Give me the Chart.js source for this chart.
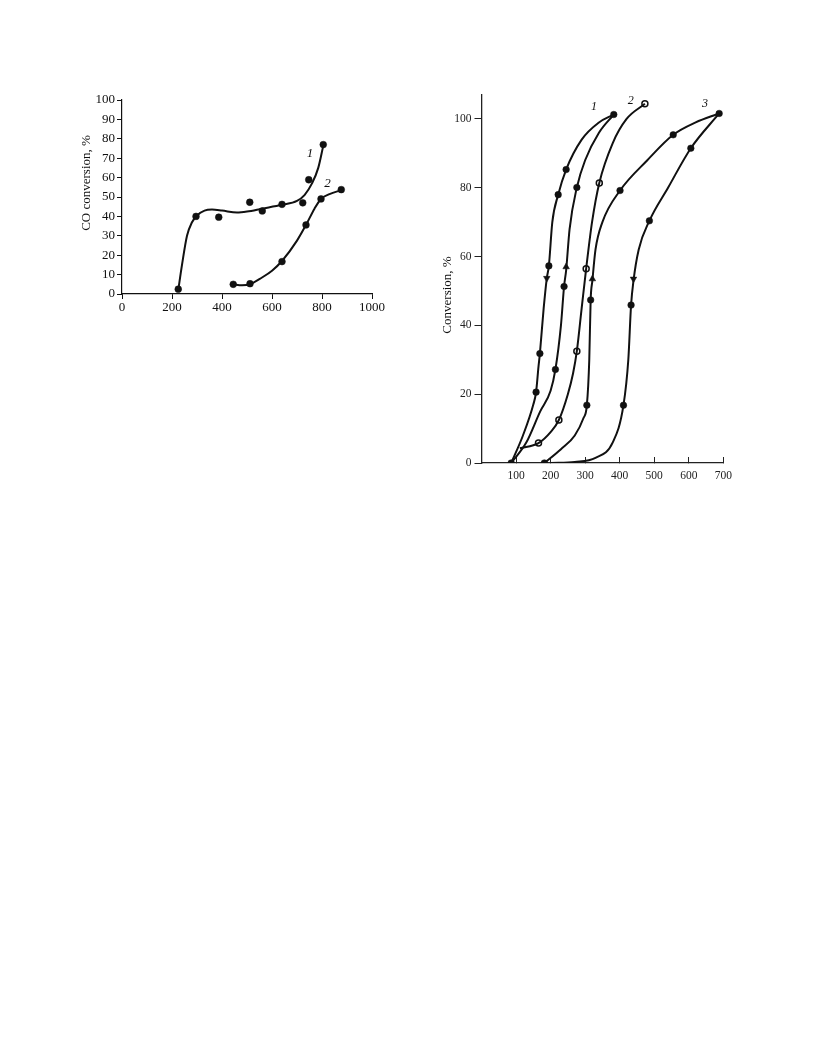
<!Doctype html>
<html>
  <head>
    <meta charset="utf-8"/>
    <style type="text/css">
      body {
        margin: 0px;
        padding: 0px;
        background: #ffffff;
      }
      #left {
        position: absolute;
        left: 60px;
        top: 85px;
      }
      #right {
        position: absolute;
        left: 430px;
        top: 85px;
      }
    </style>
  </head>
  <body>
    <div id="left"><canvas id="c1" width="340" height="240"></canvas></div>
    <div id="right"><canvas id="c2" width="320" height="410"></canvas></div>
  </body>
  <script src="https://cdn.jsdelivr.net/npm/chart.js@4"></script>
  <script>
    // ---- left chart: CO conversion vs temperature ----
    var l1Pts = [[225,2.5],[296,40],[387,39.6],[511,47.3],[561,42.8],[640,46.2],[723,47],[747,58.9],[805,77]];
    var l1Line = [[225,2],[240,15],[260,30],[280,37],[300,40.5],[330,43],[360,43.5],[400,43],[460,42],[500,42.5],[560,44],[640,46],[700,48],[730,51],[760,57],[785,65],[806,77]];
    var l2Pts = [[445,5],[512,5.3],[640,16.7],[736,35.6],[796,49],[877,53.8]];
    var l2Line = [[445,5],[480,4.5],[512,5],[560,8.5],[600,12],[640,17],[700,27.5],[736,35.6],[770,44],[796,49],[830,51.5],[877,53.5]];
    var leftLabels = [["1",752,72.5],["2",822,57]];

    // ---- right chart: conversion curves 1-3 ----
    var r1Down = [[86,0],[120,8],[150,17],[158,20.6],[165,28],[169,31.8],[180,45],[189,53.7],[195,57.3],[205,70],[222,78],[245,85.3],[290,94],[340,99],[383,101.3]];
    var r1Up = [[86,0],[130,6],[170,15],[200,21],[214,27.2],[230,40],[239,51.3],[245,56],[255,68],[276,80.1],[300,88],[340,96],[383,101.3]];
    var r1Pts = [[86,0],[158,20.6],[169,31.8],[195,57.3],[222,78],[245,85.3],[214,27.2],[239,51.3],[276,80.1],[383,101.3]];
    var r2Line = [[111,4.3],[165,5.8],[200,9],[224,12.5],[250,20],[265,26],[276,32.5],[290,45],[303,56.5],[320,70],[341,81.4],[380,93],[420,100],[473,104.4]];
    var r2Pts = [[165,5.8],[224,12.5],[276,32.5],[303,56.5],[341,81.4],[473,104.4]];
    var r3Up = [[182,0],[230,4],[270,8],[295,13],[305,16.8],[312,30],[316,47.4],[321,53],[330,62],[350,70],[401,79.2],[480,88],[555,95.4],[620,99],[688,101.6]];
    var r3Down = [[200,0],[270,0.3],[330,1.5],[380,6],[411,16.8],[425,30],[433,45.9],[440,53],[455,62],[486,70.4],[540,80],[606,91.5],[688,101.6]];
    var r3Pts = [[182,0],[305,16.8],[316,47.4],[401,79.2],[555,95.4],[688,101.6],[606,91.5],[486,70.4],[433,45.9],[411,16.8]];
    var arrowsUp = [[245,57],[321,53.5]];
    var arrowsDown = [[189,53.7],[440,53.5]];
    var rightLabels = [["1",326,103.6],["2",432,105.2],["3",647,104.3]];

    function xy(a){ return a.map(function(p){ return {x:p[0], y:p[1]}; }); }

    function lineSet(a){
      return {data: xy(a), showLine: true, borderColor: '#111', borderWidth: 2,
        pointRadius: 0, cubicInterpolationMode: 'monotone', fill: false};
    }
    function dotSet(a, open, r){
      return {data: xy(a), showLine: false, pointRadius: r, pointHoverRadius: r,
        pointBackgroundColor: open ? '#fff' : '#111', pointBorderColor: '#111',
        pointBorderWidth: open ? 1.5 : 0.5};
    }
    function arrowSet(a, rot){
      return {data: xy(a), showLine: false, pointStyle: 'triangle', pointRadius: 3.8,
        pointRotation: rot, pointBackgroundColor: '#111', pointBorderColor: '#111', pointBorderWidth: 0.5};
    }

    function textPlugin(title, tx, ty, labels, fontSize){
      return {
        id: 'texts',
        afterDraw: function(chart){
          var ctx = chart.ctx;
          ctx.save();
          ctx.fillStyle = '#111';
          ctx.textAlign = 'center';
          ctx.textBaseline = 'middle';
          ctx.font = 'italic ' + fontSize + 'px "Liberation Serif"';
          labels.forEach(function(l){
            ctx.fillText(l[0], chart.scales.x.getPixelForValue(l[1]), chart.scales.y.getPixelForValue(l[2]));
          });
          ctx.translate(tx, ty);
          ctx.rotate(-Math.PI/2);
          ctx.font = '13px "Liberation Serif"';
          ctx.fillText(title, 0, 0);
          ctx.restore();
        }
      };
    }

    function plain(v){ return String(v); }

    Chart.defaults.font.family = '"Liberation Serif"';
    Chart.defaults.animation = false;

    new Chart(document.getElementById('c1'), {
      type: 'scatter',
      data: {datasets: [lineSet(l1Line), lineSet(l2Line), dotSet(l1Pts, false, 3.4), dotSet(l2Pts, false, 3.4)]},
      options: {
        responsive: false,
        layout: {padding: {top: 15, right: 28, left: 0, bottom: 0}},
        plugins: {legend: {display: false}, tooltip: {enabled: false}},
        scales: {
          x: {type: 'linear', min: 0, max: 1000,
            ticks: {stepSize: 200, color: '#111', font: {size: 13}, padding: 1, maxRotation: 0, callback: plain},
            grid: {drawOnChartArea: false, tickLength: 5, color: '#111'},
            border: {color: '#111', width: 1.2},
            afterFit: function(s){ s.height = 31; }},
          y: {min: 0, max: 100,
            ticks: {stepSize: 10, color: '#111', font: {size: 13}, padding: 2, callback: plain},
            grid: {drawOnChartArea: false, tickLength: 5, color: '#111'},
            border: {color: '#111', width: 1.2},
            afterFit: function(s){ s.width = 62; }}
        }
      },
      plugins: [textPlugin('CO conversion, %', 27, 98, leftLabels, 13)]
    });

    new Chart(document.getElementById('c2'), {
      type: 'scatter',
      data: {datasets: [lineSet(r1Down), lineSet(r1Up), lineSet(r2Line), lineSet(r3Up), lineSet(r3Down),
        dotSet(r1Pts, false, 3.3), dotSet(r2Pts, true, 3), dotSet(r3Pts, false, 3.3),
        arrowSet(arrowsUp, 0), arrowSet(arrowsDown, 180)]},
      options: {
        responsive: false,
        layout: {padding: {top: 9, right: 26.7, left: 0, bottom: 0}},
        plugins: {legend: {display: false}, tooltip: {enabled: false}},
        scales: {
          x: {type: 'linear', min: 0, max: 700,
            ticks: {stepSize: 100, color: '#222', font: {size: 11.5}, padding: 12, maxRotation: 0, callback: plain},
            grid: {drawOnChartArea: false, tickLength: -6, color: '#222'},
            border: {color: '#222', width: 1.3},
            afterBuildTicks: function(s){ s.ticks = s.ticks.filter(function(t){ return t.value > 0; }); },
            afterFit: function(s){ s.height = 32; }},
          y: {min: 0, max: 107,
            ticks: {stepSize: 20, color: '#222', font: {size: 11.5}, padding: 3, callback: plain},
            grid: {drawOnChartArea: false, tickLength: 7, color: '#222'},
            border: {color: '#222', width: 1.3},
            afterBuildTicks: function(s){ s.ticks = s.ticks.filter(function(t){ return t.value % 20 === 0; }); },
            afterFit: function(s){ s.width = 51.5; }}
        }
      },
      plugins: [textPlugin('Conversion, %', 18, 210, rightLabels, 12)]
    });
  </script>
</html>
